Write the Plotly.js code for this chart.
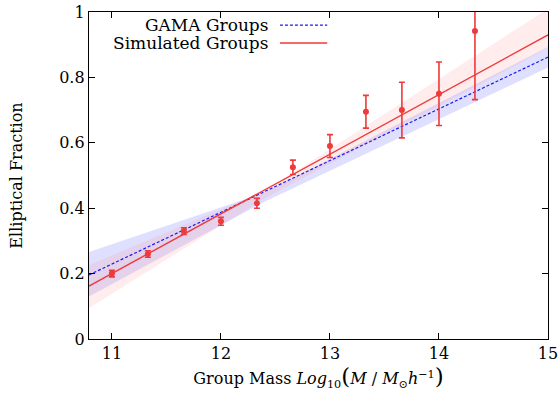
<!DOCTYPE html>
<html>
<head>
<meta charset="utf-8">
<script src="https://cdn.plot.ly/plotly-3.0.1.min.js"></script>
<style>body{margin:0;background:#fff}#chart{width:560px;height:403px}</style>
</head>
<body>
<div id="chart"></div>
<script>
// Simulated groups data points
var massX = [11.0, 11.33, 11.66, 12.0, 12.33, 12.66, 13.0, 13.33, 13.66, 14.0, 14.33];
var fracY = [0.200, 0.260, 0.330, 0.360, 0.415, 0.525, 0.590, 0.695, 0.700, 0.750, 0.942];
var fracErr = [0.010, 0.010, 0.010, 0.012, 0.015, 0.022, 0.035, 0.050, 0.085, 0.097, 0.210];

// Fit lines (endpoints)
var fitX = [10.79, 15.0];
var simFitY = [0.162, 0.930];
var gamaFitY = [0.196, 0.862];

// Confidence bands
var bandX = [10.79, 12.4, 15.0];
var simBandLow = [0.095, 0.430, 0.890];
var simBandHigh = [0.226, 0.452, 1.010];
var gamaBandLow = [0.130, 0.420, 0.830];
var gamaBandHigh = [0.266, 0.448, 0.893];

var xTicks = [11, 12, 13, 14, 15];
var yTicks = [0, 0.2, 0.4, 0.6, 0.8, 1];
var yTickText = ['0', '0.2', '0.4', '0.6', '0.8', '1'];

var font = 'DejaVu Serif, Liberation Serif, serif';
var fs = 16;
var lfs = 17;

var traces = [
  {x: bandX, y: gamaBandLow, mode: 'lines', line: {width: 0}, hoverinfo: 'skip', showlegend: false},
  {x: bandX, y: gamaBandHigh, mode: 'lines', line: {width: 0}, fill: 'tonexty', fillcolor: 'rgba(140,140,255,0.28)', hoverinfo: 'skip', showlegend: false},
  {x: bandX, y: simBandLow, mode: 'lines', line: {width: 0}, hoverinfo: 'skip', showlegend: false},
  {x: bandX, y: simBandHigh, mode: 'lines', line: {width: 0}, fill: 'tonexty', fillcolor: 'rgba(255,150,150,0.18)', hoverinfo: 'skip', showlegend: false},
  {x: fitX, y: gamaFitY, mode: 'lines', line: {color: '#1a1aee', width: 1.2, dash: '3px,2px'}, showlegend: false},
  {x: fitX, y: simFitY, mode: 'lines', line: {color: '#ee3a3a', width: 1.4}, showlegend: false},
  {x: massX, y: fracY, mode: 'markers', marker: {color: '#ee3a3a', size: 6},
   error_y: {type: 'data', array: fracErr, visible: true, color: '#ee3a3a', thickness: 1.6, width: 3},
   showlegend: false}
];

var layout = {
  width: 560, height: 403,
  margin: {l: 89, r: 12, t: 12, b: 64},
  paper_bgcolor: '#fff', plot_bgcolor: '#fff',
  font: {family: font, size: fs, color: '#000'},
  showlegend: false,
  xaxis: {
    range: [10.79, 15], tickvals: xTicks, ticks: 'inside', ticklen: 6, tickcolor: '#000',
    showgrid: false, zeroline: false, showline: true, linecolor: '#000', linewidth: 1.2, mirror: 'ticks',
    tickfont: {family: font, size: fs},
    title: {text: 'Group Mass <i>Log</i><sub>10</sub><span style="font-size:23px">(</span><i>M</i> / <i>M</i><sub>⊙</sub><i>h</i><sup>−1</sup><span style="font-size:23px">)</span>', font: {family: font, size: fs}, standoff: 6}
  },
  yaxis: {
    range: [0, 1], tickvals: yTicks, ticktext: yTickText, ticks: 'inside', ticklen: 6, tickcolor: '#000',
    showgrid: false, zeroline: false, showline: true, linecolor: '#000', linewidth: 1.2, mirror: 'ticks',
    tickfont: {family: font, size: fs},
    title: {text: 'Elliptical Fraction', font: {family: font, size: fs}, standoff: 32}
  },
  annotations: [
    {xref: 'paper', yref: 'paper', x: 0.394, y: 0.96, xanchor: 'right', yanchor: 'middle', text: 'GAMA Groups', showarrow: false, font: {family: font, size: lfs}},
    {xref: 'paper', yref: 'paper', x: 0.394, y: 0.905, xanchor: 'right', yanchor: 'middle', text: 'Simulated Groups', showarrow: false, font: {family: font, size: lfs}}
  ],
  shapes: [
    {type: 'line', xref: 'paper', yref: 'paper', x0: 0.416, x1: 0.519, y0: 0.96, y1: 0.96, line: {color: '#1a1aee', width: 1.2, dash: '3px,2px'}},
    {type: 'line', xref: 'paper', yref: 'paper', x0: 0.416, x1: 0.519, y0: 0.905, y1: 0.905, line: {color: '#ee3a3a', width: 1.4}}
  ]
};

Plotly.newPlot('chart', traces, layout, {staticPlot: true});
</script>
</body>
</html>
